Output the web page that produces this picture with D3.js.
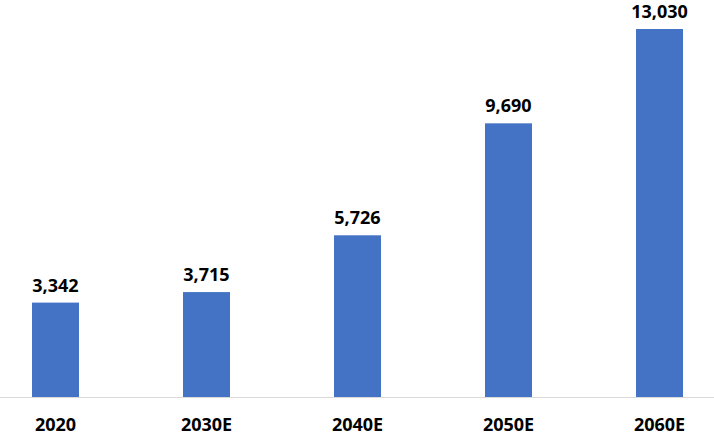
<!DOCTYPE html>
<html>
<head>
<meta charset="utf-8">
<script src="https://cdn.jsdelivr.net/npm/d3@7"></script>
<style>
  body { margin: 0; background: #fff; }
  svg { display: block; }
</style>
</head>
<body>
<script>
var years = ['2020', '2030E', '2040E', '2050E', '2060E'];
var values = [3342, 3715, 5726, 9690, 13030];

var width = 714, height = 439;

var svg = d3.select('body')
		.append('svg')
		.attr('width', width)
		.attr('height', height);

var x = d3.scaleBand()
	.domain(years)
	.range([-20, 735])
	.paddingInner(0.689)
	.paddingOuter(0.3445);

var y = d3.scaleLinear()
	.domain([0, 13030])
	.range([397, 29]);

// bars
svg.selectAll('rect')
	.data(values)
	.enter().append('rect')
	.attr('x', function(d, i) { return x(years[i]); })
	.attr('y', function(d) { return y(d); })
	.attr('width', x.bandwidth())
	.attr('height', function(d) { return y(0) - y(d); })
	.attr('fill', '#4472c4');

// baseline
svg.append('line')
	.attr('x1', 0)
	.attr('x2', width)
	.attr('y1', y(0) + 0.5)
	.attr('y2', y(0) + 0.5)
	.attr('stroke', '#d9d9d9')
	.attr('stroke-width', 1);

// value labels
svg.selectAll('text.val')
	.data(values)
	.enter().append('text')
	.attr('class', 'val')
	.attr('x', function(d, i) { return x(years[i]) + x.bandwidth() / 2; })
	.attr('y', function(d) { return y(d) - 11; })
	.attr('text-anchor', 'middle')
	.attr('font-family', 'Noto Sans, sans-serif')
	.attr('font-weight', 'bold')
	.attr('font-size', 18)
	.attr('fill', '#000')
	.text(function(d) { return d3.format(',')(d); });

// category labels
var xAxis = d3.axisBottom(x).tickSize(0).tickPadding(0);
var gx = svg.append('g')
	.attr('transform', 'translate(0,' + y(0) + ')')
	.call(xAxis);
gx.select('.domain').remove();
gx.selectAll('text')
	.attr('dy', null)
	.attr('y', 34)
	.attr('font-family', 'Noto Sans, sans-serif')
	.attr('font-weight', 'bold')
	.attr('font-size', 18)
	.attr('fill', '#000');
</script>
</body>
</html>
